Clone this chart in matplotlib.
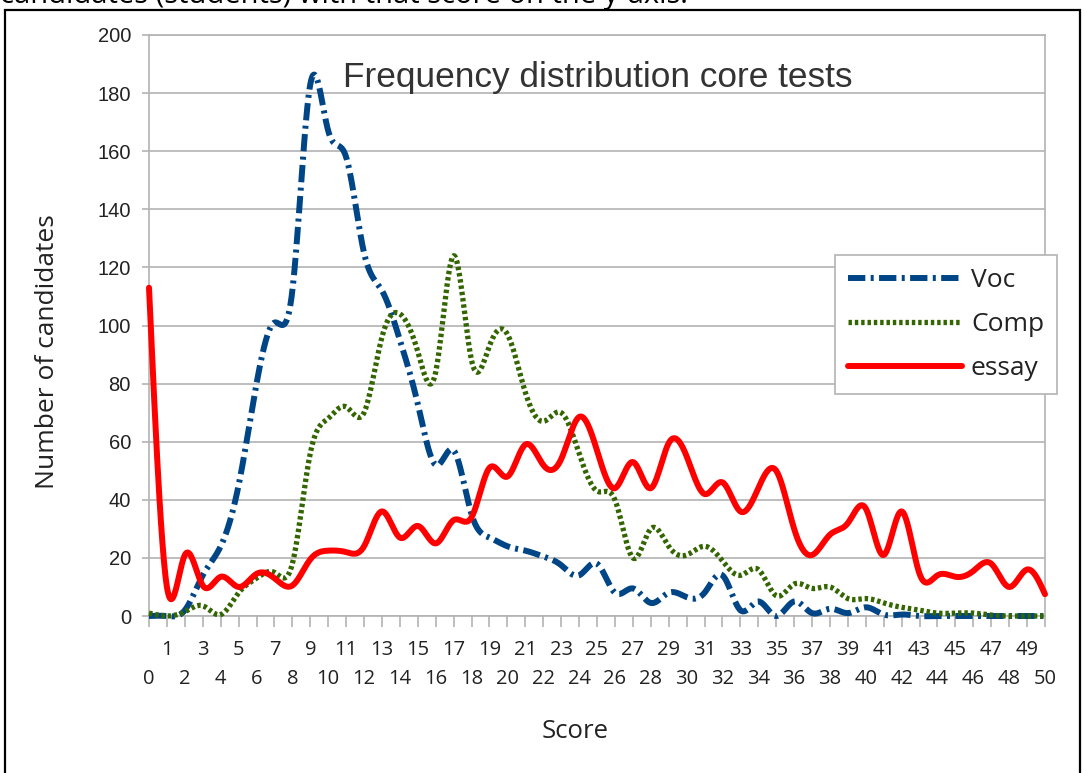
import numpy as np
import matplotlib
matplotlib.use("Agg")
import matplotlib.pyplot as plt
from matplotlib.patches import Rectangle

scores = list(range(0, 51))
voc = [0, 0, 2, 14, 24, 45, 80, 101, 112, 183, 167, 158, 125, 112, 95, 73, 52, 57, 35, 27,
       24, 22.5, 20.5, 17.5, 14, 18, 8, 9.5, 4.5, 8, 6.5, 8, 14, 2, 5, 0, 5, 1, 2.5, 1,
       3, 0.5, 0.5, 0, 0, 0, 0, 0, 0, 0, 0]
comp = [1, 0, 1.5, 3.5, 0.5, 8, 13, 15, 18, 56, 68, 72, 70, 96, 104, 91, 84, 124, 88, 93,
        97, 77, 67, 70, 56, 43, 40, 20, 30, 24, 21, 24, 19, 14, 16, 7, 11, 9.5, 10, 6,
        6, 4.5, 3, 2, 1, 1, 1, 0.3, 0, 0, 0]
essay = [113, 10, 21, 10.5, 13.5, 10, 14.5, 13, 10.5, 19.5, 22.5, 22, 24, 36, 27, 31, 25, 33, 34, 51,
         48, 59, 52, 54, 68.5, 57, 44, 53, 44, 59.5, 55, 42, 46, 36, 44, 50, 30, 21, 28, 32,
         37, 21, 36, 14.5, 14, 13.5, 15.5, 18, 10, 16, 7.5]
series_names = ["Voc", "Comp", "essay"]
y_ticks = list(range(0, 201, 20))
title = "Frequency distribution core tests"


def smooth(x, y, n=24):
    """Natural cubic spline used only to render the smoothed line style."""
    x = np.asarray(x, float)
    y = np.asarray(y, float)
    N = len(x)
    h = np.diff(x)
    A = np.zeros((N, N))
    b = np.zeros(N)
    A[0, 0] = 1
    A[-1, -1] = 1
    for i in range(1, N - 1):
        A[i, i - 1] = h[i - 1]
        A[i, i] = 2 * (h[i - 1] + h[i])
        A[i, i + 1] = h[i]
        b[i] = 3 * ((y[i + 1] - y[i]) / h[i] - (y[i] - y[i - 1]) / h[i - 1])
    c = np.linalg.solve(A, b)
    xs, ys = [], []
    for i in range(N - 1):
        bi = (y[i + 1] - y[i]) / h[i] - h[i] * (2 * c[i] + c[i + 1]) / 3
        di = (c[i + 1] - c[i]) / (3 * h[i])
        t = np.linspace(0, h[i], n, endpoint=False)
        xs.append(x[i] + t)
        ys.append(y[i] + bi * t + c[i] * t ** 2 + di * t ** 3)
    xs.append([x[-1]])
    ys.append([y[-1]])
    return np.concatenate(xs), np.concatenate(ys)


W, H = 1084, 773
fig = plt.figure(figsize=(W / 100, H / 100), dpi=100)
fig.patch.set_facecolor("white")
ax = fig.add_axes([149 / W, 1 - 616 / H, (1045 - 149) / W, (616 - 35) / H])

grid_c = "#b3b3b3"
txt_c = "#222222"
ax.set_xlim(0, 50)
ax.set_ylim(0, 200)
ax.set_yticks(y_ticks)
ax.yaxis.grid(True, color=grid_c, lw=1.2)
ax.set_axisbelow(True)
for s in ["left", "right", "top", "bottom"]:
    ax.spines[s].set_color(grid_c)
    ax.spines[s].set_linewidth(1.2)

odd = [s for s in scores if s % 2 == 1]
even = [s for s in scores if s % 2 == 0]
ax.set_xticks(odd, labels=[str(v) for v in odd])
ax.set_xticks(even, labels=[str(v) for v in even], minor=True)
ax.tick_params(axis="x", which="major", length=8, width=1.2, color=grid_c, pad=9,
               labelsize=14.5, labelcolor=txt_c)
ax.tick_params(axis="x", which="minor", length=8, width=1.2, color=grid_c, pad=30,
               labelsize=14.5, labelcolor=txt_c)
for lab in ax.get_xticklabels(minor=False) + ax.get_xticklabels(minor=True):
    lab.set_fontfamily("Open Sans")
ax.tick_params(axis="y", length=5, width=1.2, color=grid_c, pad=8, labelsize=14.5,
               labelcolor=txt_c)
for lab in ax.get_yticklabels():
    lab.set_fontfamily("Liberation Sans")

colors = ["#004586", "#336600", "#ff0000"]
xs, ys = smooth(scores, voc)
ax.plot(xs, ys, color=colors[0], lw=4.3, linestyle=(0, (2.9, 0.9, 0.5, 0.9)),
        dash_capstyle="butt", label=series_names[0], zorder=3)
xs, ys = smooth(scores, comp)
ax.plot(xs, ys, color=colors[1], lw=3.8, linestyle=(0, (0.65, 0.55)),
        dash_capstyle="butt", label=series_names[1], zorder=3)
xs, ys = smooth(scores, essay)
ax.plot(xs, ys, color=colors[2], lw=4.3, solid_capstyle="round", label=series_names[2], zorder=4)
for ln in ax.lines:
    ln.set_clip_on(False)

fig.text(343 / W, 1 - 78 / H, title, fontsize=25.4, color="#333333",
         family="Liberation Sans", va="center", ha="left")

fig.text(48 / W, 1 - 352 / H, "Number of candidates", rotation=90, fontsize=19,
         family="Open Sans", color=txt_c, ha="center", va="center")
fig.text(575 / W, 1 - 731 / H, "Score", fontsize=18.5, family="Open Sans",
         color=txt_c, ha="center", va="center")

leg = fig.legend(loc="upper left", bbox_to_anchor=(835 / W, 1 - 255 / H),
                 bbox_transform=fig.transFigure, borderaxespad=0, frameon=True,
                 fancybox=False, edgecolor="#b3b3b3", framealpha=1,
                 prop={"family": "Open Sans", "size": 19}, handlelength=4.3,
                 handletextpad=0.35, borderpad=0.5, labelspacing=0.72)
for t in leg.get_texts():
    t.set_color(txt_c)
leg.get_frame().set_linewidth(1.2)

# outer frame of the screenshot and the clipped caption above it
fig.add_artist(Rectangle((5 / W, -0.05), (1080 - 5) / W, 1 - 10 / H + 0.05,
                         transform=fig.transFigure, fill=False, edgecolor="black", lw=1.6))
fig.text(0.0, 1 - 3 / H, "candidates (students) with that score on the y-axis.",
         fontsize=21, family="Open Sans", color="black", ha="left", va="baseline")

fig.savefig("out.png", dpi=100, facecolor="white")
